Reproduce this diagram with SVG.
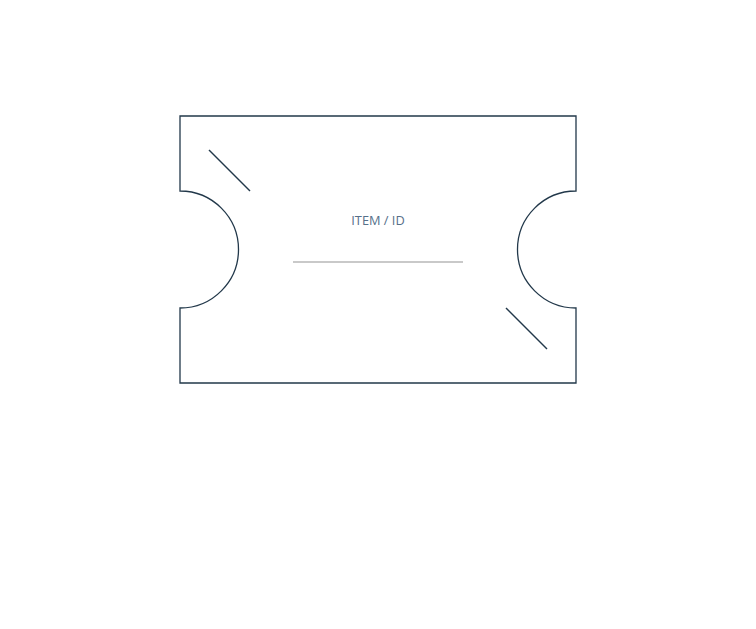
<svg xmlns="http://www.w3.org/2000/svg" width="756" height="629" viewBox="0 0 756 629">
<style>
.outline{fill:#fff;stroke:#22384a;stroke-width:1.3}
.slash{stroke:#22384a;stroke-width:1.5;fill:none}
.label{font-family:"Open Sans","Noto Sans",sans-serif;font-size:12.8px;fill:#56708a}
.rule{stroke:#939393;stroke-width:1.2}
</style>
<rect width="756" height="629" fill="#fff"/>
<g id="ticket">
<path class="outline" d="M180,116 H576 V191 A58.5,58.5 0 0 0 576,308 V383 H180 V308 A58.5,58.5 0 0 0 180,191 Z"/>
<line class="slash" x1="209" y1="150" x2="250" y2="191"/>
<line class="slash" x1="506" y1="308" x2="547" y2="349"/>
<text class="label" x="378" y="225" text-anchor="middle">ITEM / ID</text>
<line class="rule" x1="293" y1="262" x2="463" y2="262"/>
</g>
</svg>
